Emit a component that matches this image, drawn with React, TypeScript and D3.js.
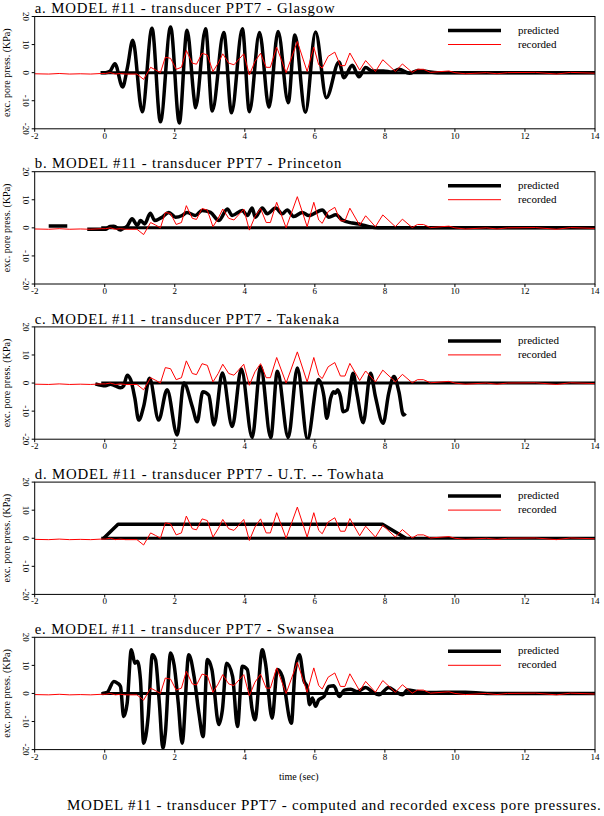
import React from "react";
import * as d3 from "d3";

type Pt = [number, number];

const xTicks = [-2, 0, 2, 4, 6, 8, 10, 12, 14];
const yTicks = [-20, -10, 0, 10, 20];
const panelTitles = [
  "a. MODEL #11 - transducer PPT7 - Glasgow",
  "b. MODEL #11 - transducer PPT7 - Princeton",
  "c. MODEL #11 - transducer PPT7 - Takenaka",
  "d. MODEL #11 - transducer PPT7 - U.T. -- Towhata",
  "e. MODEL #11 - transducer PPT7 - Swansea",
];
const legendLabels = ["predicted", "recorded"];
const xLabel = "time (sec)";
const yLabel = "exc. pore press. (KPa)";
const caption = "MODEL #11 - transducer PPT7 - computed and recorded excess pore pressures.";

const recorded: Pt[] = [
  [-2, -0.4], [-1.6, -0.5], [-1.3, -0.3], [-1.0, -0.5], [-0.7, -0.4], [-0.4, -0.5], [-0.1, -0.3],
  [0.02, -0.3], [0.16, 0], [0.3, -0.5], [0.45, -0.3], [0.59, -0.5], [0.92, -0.5], [1.11, -2.4],
  [1.31, 1.9], [1.45, 1.0], [1.59, 0], [1.73, 5.5], [1.88, 5.1], [2.04, 1.2], [2.19, 1.9],
  [2.33, 7.9], [2.5, 3.4], [2.62, 3.0], [2.78, 6.9], [2.93, 6.3], [3.09, 0.4], [3.24, 3.4],
  [3.37, 6.7], [3.54, 3.4], [3.69, 2.8], [3.97, 6.7], [4.13, -0.8], [4.29, 4.0], [4.45, 6.9],
  [4.61, 1.9], [4.73, 1.9], [4.91, 9.1], [5.18, 0], [5.5, 11.1], [5.78, 0.4], [5.97, 9.1],
  [6.11, 2.8], [6.21, 1.6], [6.38, 5.8], [6.57, 7.3], [6.73, 2.5], [6.86, 2.5], [7.0, 7.0],
  [7.28, 0.9], [7.45, 4.3], [7.73, 0.4], [7.94, 4.6], [8.3, 0.4], [8.5, 3.1], [8.78, 0.1],
  [8.93, 1.2], [9.1, 1.2], [9.3, 0.1], [9.83, 0.6], [10.0, 0], [10.3, -0.4], [10.9, 0],
  [11.2, -0.4], [11.5, 0], [12.3, 0.1], [12.9, -0.5], [13.3, 0.1], [14, -0.2],
];

const predictedGlasgow: Pt[] = [
  [-0.12, 0], [0.02, 0], [0.15, 0.5], [0.29, 3.2], [0.51, -5.1], [0.65, 2], [0.8, 11.5],
  [1.07, -13.9], [1.35, 15.8], [1.59, -17.5], [1.88, 16.3], [2.13, -17.9], [2.35, 15.1],
  [2.55, -9], [2.59, -12.5], [2.88, 15.6], [3.07, -13.7], [3.4, 14.3], [3.62, -14.3],
  [3.93, 15.6], [4.13, -13.9], [4.42, 14.3], [4.69, -12.3], [4.95, 14.7], [5.24, -10.7],
  [5.43, 13.4], [5.73, -14.1], [6.02, 14.5], [6.33, -8.9], [6.69, 3.8], [6.83, -1.8],
  [7.07, 2.6], [7.26, -1.5], [7.45, 1.8], [7.64, 0.6], [7.96, 0.6], [8.2, 0.2], [8.4, 1.2],
  [8.7, -0.2], [8.95, 0.8], [9.2, 0.4], [9.5, 0], [14, 0],
];

const predictedPrinceton: Pt[] = [
  [-1.6, 0.7], [-1.07, 0.7], [-0.8, NaN], [-0.5, -0.5], [0.02, -0.5], [0.15, 0.5], [0.26, 0.6],
  [0.45, -0.8], [0.5, -0.4], [0.64, 0.6], [0.78, 3.2], [0.93, 0.9], [1.02, 2.6], [1.14, 1.4],
  [1.3, 5.2], [1.43, 2.6], [1.64, 3.8], [1.83, 5.5], [2.02, 3.8], [2.21, 4.4], [2.35, 5.5],
  [2.59, 4.4], [2.78, 6.2], [3.02, 5.5], [3.26, 2.6], [3.5, 6.7], [3.64, 4.4], [3.93, 6.2],
  [4.07, 4.4], [4.21, 7.1], [4.3, 3.8], [4.5, 7.1], [4.64, 5.0], [4.88, 7.1], [5.07, 5.0],
  [5.21, 6.4], [5.4, 4.0], [5.64, 5.5], [5.83, 4.4], [6.21, 6.4], [6.4, 3.8], [6.6, 4.7],
  [6.78, 2.8], [7.07, 1.7], [7.3, 1.2], [7.55, 0.4], [7.8, 0], [14, 0],
];

const predictedTakenaka: Pt[] = [
  [-0.27, -0.3], [0.02, -1.0], [0.16, -0.4], [0.3, -1.0], [0.45, -1.7], [0.54, -1.0],
  [0.64, 2.8], [0.74, 1.2], [0.86, -5.4], [0.97, -13.2], [1.11, -8.4], [1.28, 1.7],
  [1.54, -13.2], [1.78, -2.4], [2.07, -18.5], [2.26, 0], [2.5, -8.4], [2.64, -13.8],
  [2.8, -3.1], [2.97, -4.3], [3.12, -14.9], [3.36, 3.6], [3.64, -15.5], [3.9, 5.0],
  [4.21, -19.4], [4.45, 5.9], [4.74, -19.4], [4.93, 4.2], [5.24, -19.4], [5.5, 5.4],
  [5.79, -20], [6.1, 1.3], [6.26, -4.8], [6.34, -12.5], [6.45, -5.4], [6.53, -3.1],
  [6.59, -3.6], [6.65, -2.4], [6.73, -4.8], [6.81, -10.2], [6.92, -9.6], [7.09, 3.5],
  [7.2, -3.6], [7.38, -14.1], [7.59, 3.5], [7.73, -4.8], [7.95, -14.3], [8.11, -3.6],
  [8.26, 2.3], [8.4, -3.1], [8.53, -11.4], [8.59, -10.8],
];

const predictedTowhata: Pt[] = [
  [-0.03, 0], [0.38, 5], [7.93, 5], [8.6, 0],
];

const predictedSwansea: Pt[] = [
  [-0.07, 0], [0.07, 0.4], [0.26, 4.3], [0.36, 3.7], [0.45, 2.5], [0.54, -8.2], [0.64, -3.5],
  [0.76, 15.6], [0.86, 10.8], [0.93, 11.5], [1.02, 4.9], [1.11, -17.7], [1.24, -8.2],
  [1.36, 13.8], [1.45, 12.1], [1.56, -3.5], [1.66, -19.5], [1.73, -14.2], [1.88, 14.4],
  [1.98, 10.2], [2.1, -3.5], [2.21, -17.7], [2.4, 13.8], [2.55, 6.1], [2.69, -7.1],
  [2.81, -15.4], [2.93, 12.1], [3.06, 8.5], [3.26, -11.1], [3.36, -5.8], [3.48, 10.8],
  [3.65, 6.1], [3.79, -11.8], [3.93, 9.7], [4.07, 8.5], [4.21, -5.8], [4.29, -9.4],
  [4.5, 15.6], [4.59, 10.8], [4.78, -8.8], [4.93, 8.5], [5.07, 6.1], [5.33, -10.6],
  [5.43, 7.3], [5.56, 13.8], [5.69, 4.5], [5.78, 2.3], [5.85, -4.0], [5.93, -1.6],
  [6.02, -4.6], [6.11, -2.3], [6.26, -1.1], [6.4, 2.5], [6.54, 2.7], [6.7, -1.1],
  [6.84, 1.2], [7.03, 1.5], [7.21, 0.6], [7.45, 2.1], [7.64, 0.6], [7.83, -0.5],
  [8.11, 2.1], [8.31, 0.6], [8.5, -0.5], [8.64, 1.2], [8.97, 0.6], [9.25, 0.3],
  [9.7, 0.4], [10.3, 0.4], [10.7, 0.2], [11, 0], [14, 0],
];

const predictedSeries = [predictedGlasgow, predictedPrinceton, predictedTakenaka, predictedTowhata, predictedSwansea];
const smoothPredicted = [true, true, true, false, true];
const baselineRange: Pt = [-0.1, 14];

const W = 604;
const H = 816;
const FONT = "'Liberation Serif', 'Times New Roman', serif";
const x0 = 34.7;
const x1 = 595;
const top0 = 16.5;
const panelStep = 155.2;
const panelH = 112.3;

function Panel({ i }: { i: number }) {
  const top = top0 + i * panelStep;
  const bottom = top + panelH;
  const x = d3.scaleLinear().domain([-2, 14]).range([x0, x1]);
  const y = d3.scaleLinear().domain([-20, 20]).range([bottom, top]);
  const predLine = d3
    .line<Pt>()
    .defined((d) => !isNaN(d[1]))
    .x((d) => x(d[0]))
    .y((d) => y(d[1]))
    .curve(smoothPredicted[i] ? d3.curveMonotoneX : d3.curveLinear);
  const recLine = d3
    .line<Pt>()
    .x((d) => x(d[0]))
    .y((d) => y(d[1]));
  const base: Pt[] = [[baselineRange[0], 0], [baselineRange[1], 0]];
  const midY = (top + bottom) / 2;
  return (
    <g>
      <text x={x0} y={top - 3.3} fontFamily={FONT} fontSize={14.8} letterSpacing={0.85}>
        {panelTitles[i]}
      </text>
      <defs>
        <clipPath id={`clip${i}`}>
          <rect x={x0} y={top} width={x1 - x0} height={panelH} />
        </clipPath>
      </defs>
      <g clipPath={`url(#clip${i})`}>
        <path d={recLine(base) || ""} stroke="#000" strokeWidth={3} fill="none" />
        <path d={predLine(predictedSeries[i]) || ""} stroke="#000" strokeWidth={3.5} fill="none" strokeLinejoin="round" />
        <path d={recLine(recorded) || ""} stroke="#ff0000" strokeWidth={1} fill="none" />
      </g>
      <rect x={x0} y={top} width={x1 - x0} height={panelH} fill="none" stroke="#000" strokeWidth={1} />
      {xTicks.map((t) => (
        <g key={`x${t}`}>
          <line x1={x(t)} x2={x(t)} y1={bottom} y2={bottom + 3} stroke="#000" />
          <text x={x(t)} y={bottom + 10} fontFamily={FONT} fontSize={9} textAnchor="middle">
            {t}
          </text>
        </g>
      ))}
      {yTicks.map((t) => (
        <g key={`y${t}`}>
          <line x1={x0 - 3} x2={x0} y1={y(t)} y2={y(t)} stroke="#000" />
          <text
            transform={`translate(${x0 - 12},${y(t)}) rotate(90)`}
            fontFamily={FONT}
            fontSize={9}
            textAnchor="middle"
          >
            {t}
          </text>
        </g>
      ))}
      <text
        transform={`translate(10,${midY}) rotate(-90)`}
        fontFamily={FONT}
        fontSize={10}
        textAnchor="middle"
      >
        {yLabel}
      </text>
      <line x1={448} x2={501} y1={top + 14} y2={top + 14} stroke="#000" strokeWidth={3.5} />
      <text x={518} y={top + 17} fontFamily={FONT} fontSize={11}>
        {legendLabels[0]}
      </text>
      <line x1={448} x2={501} y1={top + 28} y2={top + 28} stroke="#ff0000" strokeWidth={1} />
      <text x={518} y={top + 31} fontFamily={FONT} fontSize={11}>
        {legendLabels[1]}
      </text>
    </g>
  );
}

export default function App() {
  return (
    <div style={{ position: "absolute", left: 0, top: 0 }}>
      <svg width={W} height={H} viewBox={`0 0 ${W} ${H}`} style={{ display: "block", background: "#fff" }}>
        <rect width={W} height={H} fill="#fff" />
        {panelTitles.map((_, i) => (
          <Panel key={i} i={i} />
        ))}
        <text x={279} y={780} fontFamily={FONT} fontSize={10}>
          {xLabel}
        </text>
        <text x={67} y={810} fontFamily={FONT} fontSize={15} letterSpacing={0.73}>
          {caption}
        </text>
      </svg>
    </div>
  );
}
